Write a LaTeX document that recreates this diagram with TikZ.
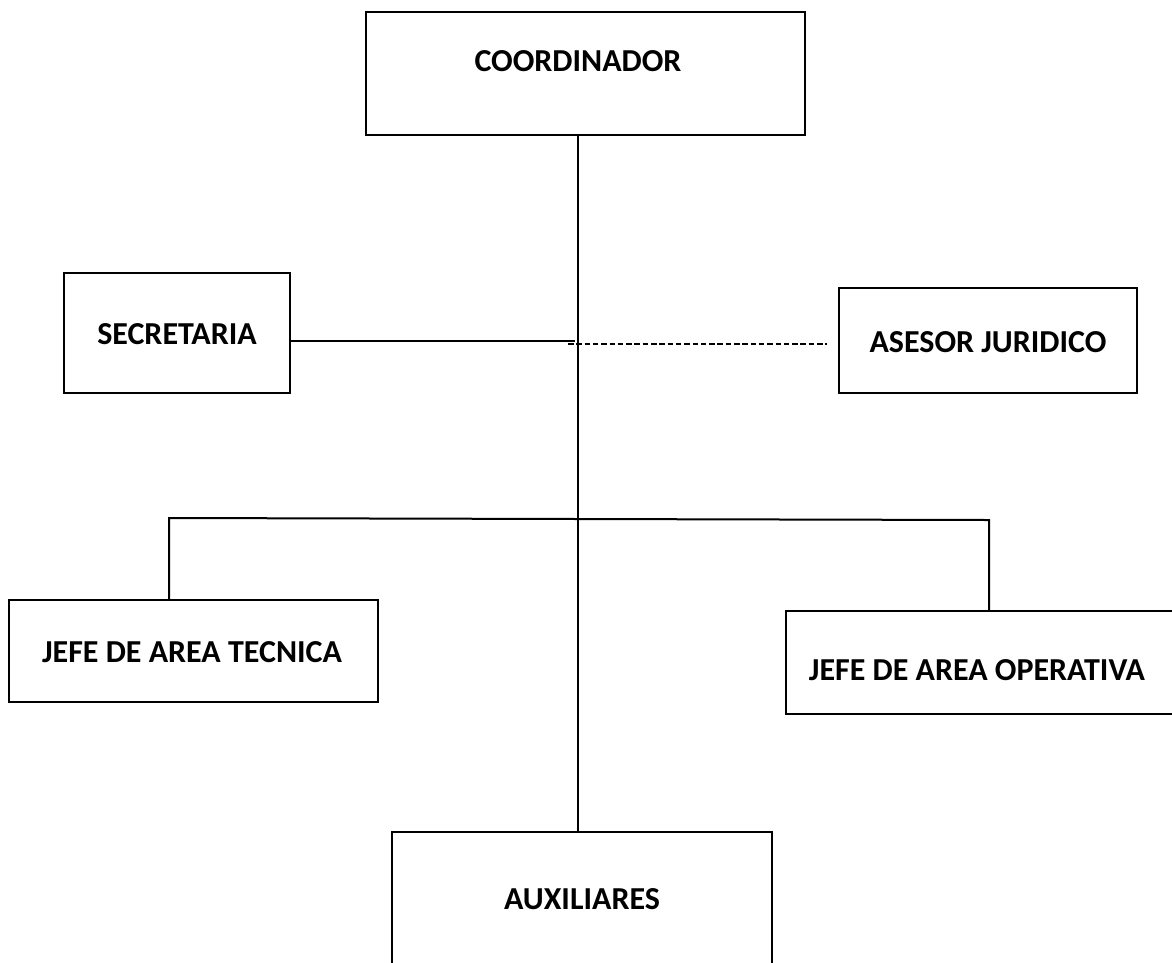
\documentclass[tikz,border=0pt]{standalone}
\usepackage{fontspec}
\setmainfont{Carlito}
\begin{document}
\begin{tikzpicture}[x=1pt,y=-1pt,
  box/.style={draw=black,line width=2pt,inner sep=0pt,rectangle},
  lbl/.style={font=\fontsize{32}{36}\selectfont\bfseries,inner sep=0pt},
  conn/.style={line width=2pt},
  dashconn/.style={line width=2pt,dash pattern=on 5.5pt off 2.8pt}]
\useasboundingbox (0,0) rectangle (1172,962);
\clip (0,0) rectangle (1172,962);
% boxes
\node[box,minimum width=439pt,minimum height=123pt] (coord) at (585.5,73.5) {};
\node[lbl] at (578,61) {COORDINADOR};
\node[box,minimum width=226pt,minimum height=120pt] (sec) at (177,333) {};
\node[lbl] at (177,334) {SECRETARIA};
\node[box,minimum width=298pt,minimum height=105pt] (ase) at (988,340.5) {};
\node[lbl] at (988,342) {ASESOR JURIDICO};
\node[box,minimum width=369pt,minimum height=102pt] (tec) at (193.5,651) {};
\node[lbl] at (192,652) {JEFE DE AREA TECNICA};
\node[box,minimum width=420pt,minimum height=103pt] (ope) at (996,662.5) {};
\node[lbl] at (977,670) {JEFE DE AREA OPERATIVA};
\node[box,minimum width=380pt,minimum height=200pt] (aux) at (582,932) {};
\node[lbl] at (582,899) {AUXILIARES};
% connectors
\coordinate (secend) at (575,341);
\coordinate (dstart) at (568,344);
\coordinate (dend) at (827,344);
\coordinate (hl) at (169,518);
\coordinate (hr) at (989,520);
\draw[conn] (coord.south -| 578,0) -- (aux.north -| 578,0);
\draw[conn] (sec.east |- secend) -- (secend);
\draw[dashconn] (dstart) -- (dend);
\draw[conn] (tec.north -| hl) -- (hl) -- (hr) -- (ope.north -| hr);
\end{tikzpicture}
\end{document}
